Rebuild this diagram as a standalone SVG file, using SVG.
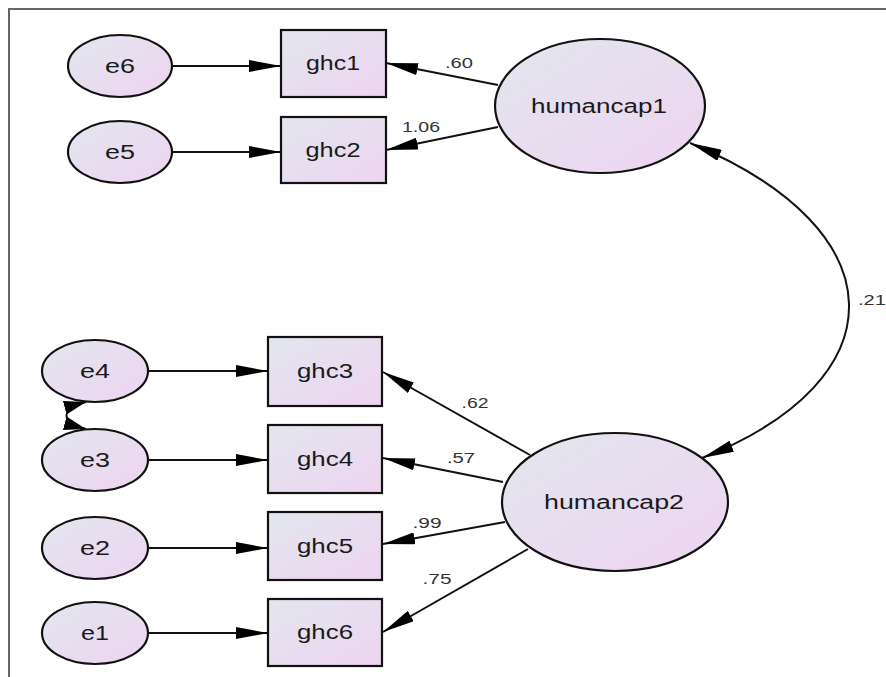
<svg xmlns="http://www.w3.org/2000/svg" width="886" height="677" viewBox="0 0 886 677">
<defs>
<linearGradient id="g" x1="0" y1="0" x2="1" y2="1">
<stop offset="0" stop-color="#e2e6ee"/>
<stop offset="1" stop-color="#eed4f1"/>
</linearGradient>
<marker id="ah" markerUnits="userSpaceOnUse" markerWidth="32" markerHeight="12" refX="32" refY="6" orient="auto-start-reverse">
<path d="M0,0 L32,6 L0,12 z" fill="#000"/>
</marker>
<marker id="as" markerUnits="userSpaceOnUse" markerWidth="22" markerHeight="14" refX="22" refY="7" orient="auto-start-reverse">
<path d="M0,0 L22,7 L0,14 z" fill="#000"/>
</marker>
<style>
.n{fill:url(#g);stroke:#111;stroke-width:2.2}
.t{font-family:"Liberation Sans",Arial,sans-serif;font-size:20px;fill:#1a1a1a;text-anchor:middle}
.l{font-family:"Liberation Sans",Arial,sans-serif;font-size:14px;fill:#333;text-anchor:middle}
.c{stroke:#111;stroke-width:2;fill:none;marker-end:url(#ah)}
</style>
</defs>
<rect width="886" height="677" fill="#fff"/>
<path d="M9,677 L9,9 L886,9" fill="none" stroke="#666" stroke-width="2"/>
<g id="connectors">
<line class="c" x1="173" y1="66" x2="281" y2="66"/>
<line class="c" x1="173" y1="152" x2="281" y2="152"/>
<line class="c" x1="148" y1="371" x2="268" y2="371"/>
<line class="c" x1="148" y1="460" x2="268" y2="460"/>
<line class="c" x1="148" y1="548" x2="268" y2="548"/>
<line class="c" x1="148" y1="633" x2="268" y2="633"/>
<line class="c" x1="498" y1="85" x2="386" y2="63"/>
<line class="c" x1="498" y1="127" x2="386" y2="150"/>
<line class="c" x1="530" y1="455" x2="383" y2="372"/>
<line class="c" x1="503" y1="482" x2="383" y2="458"/>
<line class="c" x1="505" y1="522" x2="383" y2="544"/>
<line class="c" x1="528" y1="549" x2="383" y2="632"/>
<path class="c" d="M690,143 C900,230 900,380 702,458" marker-start="url(#ah)"/>
<path d="M86,402 C60,409 60,422 86,429" fill="none" stroke="#111" stroke-width="2" marker-start="url(#as)" marker-end="url(#as)"/>
<text class="l" x="459" y="68" textLength="28" lengthAdjust="spacingAndGlyphs">.60</text>
<text class="l" x="421" y="132" textLength="38" lengthAdjust="spacingAndGlyphs">1.06</text>
<text class="l" x="475" y="408" textLength="27" lengthAdjust="spacingAndGlyphs">.62</text>
<text class="l" x="461" y="463" textLength="28" lengthAdjust="spacingAndGlyphs">.57</text>
<text class="l" x="427" y="528" textLength="29" lengthAdjust="spacingAndGlyphs">.99</text>
<text class="l" x="437" y="584" textLength="29" lengthAdjust="spacingAndGlyphs">.75</text>
<text class="l" x="872" y="305" textLength="28" lengthAdjust="spacingAndGlyphs">.21</text>
</g>
<g id="e6"><ellipse class="n" cx="120" cy="66" rx="52" ry="31"/><text class="t" x="120" y="73" textLength="30" lengthAdjust="spacingAndGlyphs">e6</text></g>
<g id="e5"><ellipse class="n" cx="120" cy="152" rx="52" ry="31"/><text class="t" x="120" y="159" textLength="30" lengthAdjust="spacingAndGlyphs">e5</text></g>
<g id="e4"><ellipse class="n" cx="95" cy="371" rx="53" ry="31"/><text class="t" x="95" y="378" textLength="30" lengthAdjust="spacingAndGlyphs">e4</text></g>
<g id="e3"><ellipse class="n" cx="95" cy="460" rx="53" ry="31"/><text class="t" x="95" y="467" textLength="30" lengthAdjust="spacingAndGlyphs">e3</text></g>
<g id="e2"><ellipse class="n" cx="95" cy="548" rx="53" ry="31"/><text class="t" x="95" y="555" textLength="30" lengthAdjust="spacingAndGlyphs">e2</text></g>
<g id="e1"><ellipse class="n" cx="95" cy="633" rx="53" ry="31"/><text class="t" x="95" y="640" textLength="28" lengthAdjust="spacingAndGlyphs">e1</text></g>
<g id="ghc1"><rect class="n" x="281" y="30" width="105" height="67"/><text class="t" x="333" y="70" textLength="54" lengthAdjust="spacingAndGlyphs">ghc1</text></g>
<g id="ghc2"><rect class="n" x="281" y="117" width="105" height="66"/><text class="t" x="333" y="157" textLength="55" lengthAdjust="spacingAndGlyphs">ghc2</text></g>
<g id="ghc3"><rect class="n" x="268" y="337" width="114" height="69"/><text class="t" x="325" y="378" textLength="56" lengthAdjust="spacingAndGlyphs">ghc3</text></g>
<g id="ghc4"><rect class="n" x="268" y="425" width="114" height="68"/><text class="t" x="325" y="466" textLength="56" lengthAdjust="spacingAndGlyphs">ghc4</text></g>
<g id="ghc5"><rect class="n" x="268" y="512" width="114" height="68"/><text class="t" x="325" y="553" textLength="56" lengthAdjust="spacingAndGlyphs">ghc5</text></g>
<g id="ghc6"><rect class="n" x="268" y="599" width="114" height="67"/><text class="t" x="325" y="639" textLength="56" lengthAdjust="spacingAndGlyphs">ghc6</text></g>
<g id="humancap1"><ellipse class="n" cx="600" cy="106" rx="105" ry="67"/><text class="t" x="599" y="113" textLength="136" lengthAdjust="spacingAndGlyphs">humancap1</text></g>
<g id="humancap2"><ellipse class="n" cx="615" cy="502" rx="113" ry="69"/><text class="t" x="614" y="509" textLength="140" lengthAdjust="spacingAndGlyphs">humancap2</text></g>
</svg>
